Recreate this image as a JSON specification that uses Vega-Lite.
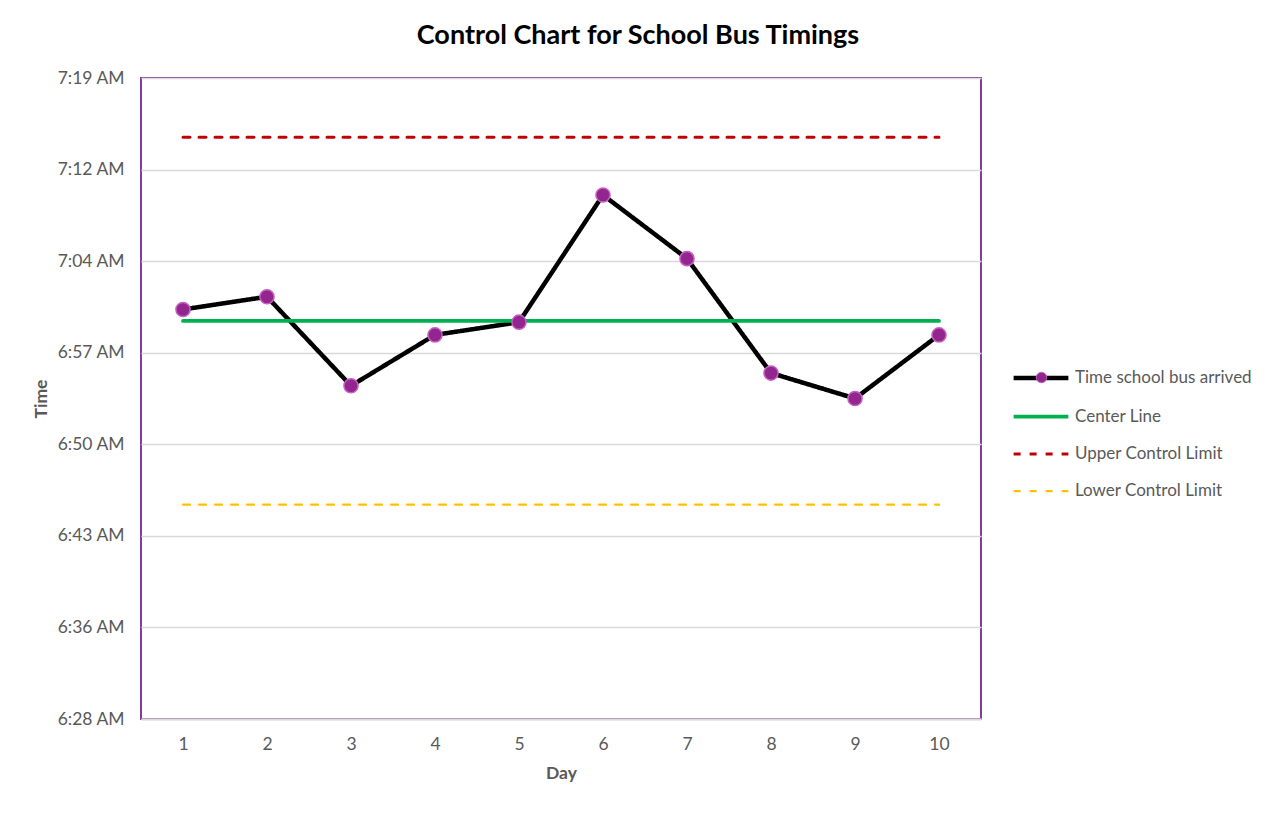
{
  "$schema": "https://vega.github.io/schema/vega-lite/v6.json",
  "description": "Control chart for school bus arrival times over 10 days",
  "autosize": {"type": "none"},
  "padding": {"left": 141, "top": 78, "right": 296, "bottom": 94},
  "width": 840,
  "height": 641,
  "background": "white",
  "title": {
    "text": "Control Chart for School Bus Timings",
    "font": "Lato",
    "fontSize": 27,
    "fontWeight": "bold",
    "color": "#000000",
    "anchor": "middle",
    "dx": 77,
    "offset": 19
  },
  "config": {
    "view": {"stroke": "#7F3F98", "strokeWidth": 2},
    "font": "Lato",
    "axis": {
      "labelFont": "Lato",
      "labelFontSize": 17.5,
      "labelColor": "#595959",
      "titleFont": "Lato",
      "titleFontSize": 17.5,
      "titleFontWeight": "bold",
      "titleColor": "#595959",
      "gridColor": "#D9D9D9",
      "gridWidth": 1.3,
      "ticks": false
    }
  },
  "data": {
    "values": [
      {"day": 1, "series": "Time school bus arrived", "time": "2024-01-01T07:01:00"},
      {"day": 2, "series": "Time school bus arrived", "time": "2024-01-01T07:02:00"},
      {"day": 3, "series": "Time school bus arrived", "time": "2024-01-01T06:55:00"},
      {"day": 4, "series": "Time school bus arrived", "time": "2024-01-01T06:59:00"},
      {"day": 5, "series": "Time school bus arrived", "time": "2024-01-01T07:00:00"},
      {"day": 6, "series": "Time school bus arrived", "time": "2024-01-01T07:10:00"},
      {"day": 7, "series": "Time school bus arrived", "time": "2024-01-01T07:05:00"},
      {"day": 8, "series": "Time school bus arrived", "time": "2024-01-01T06:56:00"},
      {"day": 9, "series": "Time school bus arrived", "time": "2024-01-01T06:54:00"},
      {"day": 10, "series": "Time school bus arrived", "time": "2024-01-01T06:59:00"},
      {"day": 1, "series": "Center Line", "time": "2024-01-01T07:00:06"},
      {"day": 2, "series": "Center Line", "time": "2024-01-01T07:00:06"},
      {"day": 3, "series": "Center Line", "time": "2024-01-01T07:00:06"},
      {"day": 4, "series": "Center Line", "time": "2024-01-01T07:00:06"},
      {"day": 5, "series": "Center Line", "time": "2024-01-01T07:00:06"},
      {"day": 6, "series": "Center Line", "time": "2024-01-01T07:00:06"},
      {"day": 7, "series": "Center Line", "time": "2024-01-01T07:00:06"},
      {"day": 8, "series": "Center Line", "time": "2024-01-01T07:00:06"},
      {"day": 9, "series": "Center Line", "time": "2024-01-01T07:00:06"},
      {"day": 10, "series": "Center Line", "time": "2024-01-01T07:00:06"},
      {"day": 1, "series": "Upper Control Limit", "time": "2024-01-01T07:14:33"},
      {"day": 2, "series": "Upper Control Limit", "time": "2024-01-01T07:14:33"},
      {"day": 3, "series": "Upper Control Limit", "time": "2024-01-01T07:14:33"},
      {"day": 4, "series": "Upper Control Limit", "time": "2024-01-01T07:14:33"},
      {"day": 5, "series": "Upper Control Limit", "time": "2024-01-01T07:14:33"},
      {"day": 6, "series": "Upper Control Limit", "time": "2024-01-01T07:14:33"},
      {"day": 7, "series": "Upper Control Limit", "time": "2024-01-01T07:14:33"},
      {"day": 8, "series": "Upper Control Limit", "time": "2024-01-01T07:14:33"},
      {"day": 9, "series": "Upper Control Limit", "time": "2024-01-01T07:14:33"},
      {"day": 10, "series": "Upper Control Limit", "time": "2024-01-01T07:14:33"},
      {"day": 1, "series": "Lower Control Limit", "time": "2024-01-01T06:45:39"},
      {"day": 2, "series": "Lower Control Limit", "time": "2024-01-01T06:45:39"},
      {"day": 3, "series": "Lower Control Limit", "time": "2024-01-01T06:45:39"},
      {"day": 4, "series": "Lower Control Limit", "time": "2024-01-01T06:45:39"},
      {"day": 5, "series": "Lower Control Limit", "time": "2024-01-01T06:45:39"},
      {"day": 6, "series": "Lower Control Limit", "time": "2024-01-01T06:45:39"},
      {"day": 7, "series": "Lower Control Limit", "time": "2024-01-01T06:45:39"},
      {"day": 8, "series": "Lower Control Limit", "time": "2024-01-01T06:45:39"},
      {"day": 9, "series": "Lower Control Limit", "time": "2024-01-01T06:45:39"},
      {"day": 10, "series": "Lower Control Limit", "time": "2024-01-01T06:45:39"}
    ]
  },
  "encoding": {
    "x": {
      "field": "day",
      "type": "quantitative",
      "title": "Day",
      "scale": {"domain": [0.5, 10.5], "nice": false, "zero": false},
      "axis": {
        "values": [1, 2, 3, 4, 5, 6, 7, 8, 9, 10],
        "grid": false,
        "domainColor": "#D9D9D9",
        "domainWidth": 2,
        "labelPadding": 16,
        "titlePadding": 12
      }
    },
    "y": {
      "field": "time",
      "type": "temporal",
      "title": "Time",
      "scale": {
        "domain": [
          {"year": 2024, "month": 1, "date": 1, "hours": 6, "minutes": 28, "seconds": 48},
          {"year": 2024, "month": 1, "date": 1, "hours": 7, "minutes": 19, "seconds": 12}
        ],
        "nice": false
      },
      "axis": {
        "values": [
          {"year": 2024, "month": 1, "date": 1, "hours": 6, "minutes": 28, "seconds": 48},
          {"year": 2024, "month": 1, "date": 1, "hours": 6, "minutes": 36, "seconds": 0},
          {"year": 2024, "month": 1, "date": 1, "hours": 6, "minutes": 43, "seconds": 12},
          {"year": 2024, "month": 1, "date": 1, "hours": 6, "minutes": 50, "seconds": 24},
          {"year": 2024, "month": 1, "date": 1, "hours": 6, "minutes": 57, "seconds": 36},
          {"year": 2024, "month": 1, "date": 1, "hours": 7, "minutes": 4, "seconds": 48},
          {"year": 2024, "month": 1, "date": 1, "hours": 7, "minutes": 12, "seconds": 0},
          {"year": 2024, "month": 1, "date": 1, "hours": 7, "minutes": 19, "seconds": 12}
        ],
        "format": "%-I:%M %p",
        "domain": false,
        "labelPadding": 17,
        "titlePadding": 6
      }
    }
  },
  "layer": [
    {
      "mark": {"type": "line", "strokeCap": "round"},
      "encoding": {
        "color": {
          "field": "series",
          "type": "nominal",
          "scale": {
            "domain": ["Time school bus arrived", "Center Line", "Upper Control Limit", "Lower Control Limit"],
            "range": ["#000000", "#00B050", "#C00000", "#FFC000"]
          },
          "legend": {
            "title": null,
            "orient": "none",
            "legendX": 870,
            "legendY": 270,
            "symbolType": "stroke",
            "symbolSize": 3000,
            "symbolStrokeWidth": 3,
            "labelFont": "Lato",
            "labelFontSize": 17,
            "labelColor": "#595959",
            "labelOffset": 4,
            "labelLimit": 0,
            "rowPadding": -40
          }
        },
        "strokeDash": {
          "field": "series",
          "type": "nominal",
          "scale": {
            "domain": ["Time school bus arrived", "Center Line", "Upper Control Limit", "Lower Control Limit"],
            "range": [[1, 0], [1, 0], [7, 9], [7, 9]]
          },
          "legend": null
        },
        "strokeWidth": {
          "field": "series",
          "type": "nominal",
          "scale": {
            "domain": ["Time school bus arrived", "Center Line", "Upper Control Limit", "Lower Control Limit"],
            "range": [4.5, 2.25, 3.5, 3.5]
          },
          "legend": null
        },
        "order": {"field": "day", "type": "quantitative"}
      }
    },
    {
      "transform": [{"filter": "datum.series === 'Time school bus arrived'"}],
      "mark": {
        "type": "point",
        "shape": "circle",
        "filled": true,
        "stroke": "#C560C2",
        "strokeWidth": 1.5,
        "opacity": 1,
        "size": 200
      },
      "encoding": {
        "fill": {
          "field": "series",
          "type": "nominal",
          "scale": {"domain": ["Time school bus arrived"], "range": ["#93258F"]},
          "legend": {
            "title": null,
            "orient": "none",
            "legendX": 892,
            "legendY": 291,
            "symbolType": "circle",
            "symbolSize": 110,
            "symbolStrokeColor": "#C560C2",
            "symbolStrokeWidth": 1,
            "symbolOpacity": 1,
            "labelFontSize": 17,
            "labelExpr": "''"
          }
        }
      }
    }
  ]
}
